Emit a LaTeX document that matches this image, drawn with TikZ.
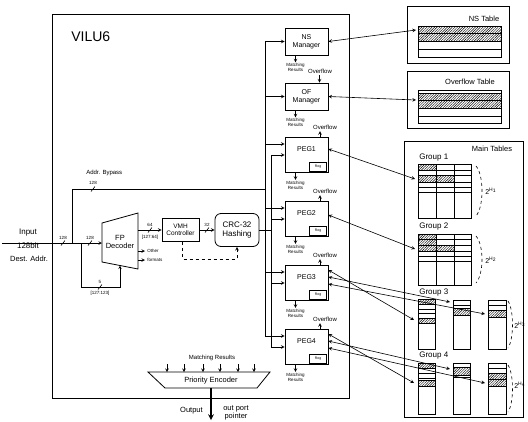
\documentclass[tikz,border=0pt]{standalone}
\usepackage{fontspec}
\setmainfont{Liberation Sans}
\usetikzlibrary{patterns.meta}
\begin{document}
\begin{tikzpicture}[x=1pt,y=-1pt,>=stealth,line width=0.6pt,
    box/.style={draw,line width=0.8pt,align=center,inner sep=0pt},
    mgr/.style={box,minimum width=43pt,minimum height=27pt,font=\fontsize{7}{8}\selectfont},
    pegbox/.style={box,minimum width=43pt,minimum height=35pt},
    regbox/.style={box,line width=0.6pt,minimum width=17pt,minimum height=9pt,font=\fontsize{3.5}{4}\selectfont},
    lbl/.style={inner sep=0pt,align=center},
    tiny/.style={lbl,font=\fontsize{4.5}{5}\selectfont},
    small/.style={lbl,font=\fontsize{6}{6.5}\selectfont},
    mid/.style={lbl,font=\fontsize{7.5}{8.5}\selectfont},
    big/.style={lbl,font=\fontsize{8}{9}\selectfont},
    pow/.style={lbl,font=\fontsize{7}{8}\selectfont,anchor=west},
    hatch/.style={pattern={Lines[angle=45,distance=1.8pt,line width=0.45pt]}},
    tab/.style={line width=0.75pt}]
  \useasboundingbox (0,0) rectangle (528,421);
  \draw[line width=1pt] (52,14) rectangle (349,398);
  \node[lbl,font=\fontsize{14}{16}\selectfont,anchor=west] (vilu) at (71,37) {VILU6};

  \node[mgr] (ns) at (306.5,41.5) {NS\\Manager};
  \node[mgr] (of) at (306.5,96.5) {OF\\Manager};
  \foreach \i/\y in {1/155,2/219,3/283,4/347}{
    \node[pegbox] (peg\i) at (306.5,\y) {};
    \node[lbl,font=\fontsize{7}{8}\selectfont] (pegt\i) at ([yshift=-12pt]peg\i.north) {PEG\i};
    \node[regbox,anchor=south east] (reg\i) at ([shift={(-1.5pt,1.5pt)}]peg\i.south east) {Reg};
    \coordinate (pa\i) at ([yshift=11pt]peg\i.west);
  }
  \foreach \b in {ns,of,peg1,peg2,peg3,peg4}{
    \draw[->] ([xshift=-11pt]\b.south) -- ++(0,7) coordinate (\b-m);
    \node[tiny,anchor=north] (\b-ml) at ([yshift=-1pt]\b-m) {Matching\\Results};
  }
  \node[small] (ovf) at (320,71) {Overflow};
  \draw[<-] ([xshift=13pt]of.north) -- ++(0,-8);
  \foreach \i in {1,...,4}{
    \draw[->] ([xshift=13.5pt]peg\i.north) -- ++(0,-6) coordinate (peg\i-o);
    \node[small,anchor=south] (peg\i-ol) at ([shift={(5pt,1pt)}]peg\i-o) {Overflow};
  }

  % buses into the managers and PEGs
  \coordinate (lbus) at (265,0);
  \coordinate (rbus) at (271,0);
  \draw (lbus |- ns.west) -- (lbus |- pa4);
  \draw (rbus |- peg1.west) -- (rbus |- peg4.west);
  \draw[->] (lbus |- ns.west) -- (ns.west);
  \draw[->] (lbus |- of.west) -- (of.west);
  \foreach \i in {1,...,4}{
    \draw[->] (lbus |- pa\i) -- (pa\i);
    \draw[->] (rbus |- peg\i.west) -- (peg\i.west);
  }

  % input side
  \node[big] (inp) at (28,233) {Input};
  \node[big] (inw) at (28,246) {128bit};
  \node[mid] (ind) at (29,259) {Dest. Addr.};
  \draw[line width=0.8pt] (102,223) -- (138,213) -- (138,269) -- (102,262) -- cycle;
  \node[mid] (fpd) at (120,242) {FP\\Decoder};
  \coordinate (in0) at (2,243);
  \coordinate (fpin) at (102,243);
  \coordinate (fpo) at (138,230);
  \coordinate (fpb) at (120,265.5);
  \coordinate (byp) at (265,189);
  \draw[->] (in0) -- (fpin);
  \draw (72,243) |- (byp);
  \draw[->] (81,243) |- (fpb |- 0,287) -- (fpb);
  \node[small,anchor=west] (addr) at (86,173) {Addr. Bypass};

  \node[box,minimum width=37pt,minimum height=23pt,font=\fontsize{6.5}{7.5}\selectfont] (vmh) at (180.5,230) {VMH\\Controller};
  \node[box,rounded corners=6pt,minimum width=44pt,minimum height=33pt,font=\fontsize{8}{9.5}\selectfont] (crc) at (237,230) {CRC-32\\Hashing};
  \draw[->] (fpo) -- (vmh.west);
  \draw[->] (vmh.east) -- (crc.west);
  \draw[dashed,->] ([xshift=2pt]vmh.south) -- ++(0,17) -| (crc.south);
  \draw (crc.east) -- (rbus |- crc.east);
  \draw[->] (138,251) -- ++(7,0);
  \draw[->] (138,260) -- ++(7,0);
  \node[tiny,anchor=west] (oth) at (147,251) {Other};
  \node[tiny,anchor=west] (fmt) at (147,260) {formats};

  % bus widths
  \foreach \x/\y in {63/243,90/243,93/189,150/230,207/230,100/287}
    \draw (\x,\y) +(-2,2.5) -- +(2,-2.5);
  \node[tiny] (w1) at (63,238) {128};
  \node[tiny] (w2) at (90,238) {128};
  \node[tiny] (w3) at (93,183) {128};
  \node[tiny] (w4) at (150,225) {64};
  \node[tiny] (w5) at (150,237) {[127:64]};
  \node[tiny] (w6) at (207,225) {32};
  \node[tiny] (w7) at (100,282) {5};
  \node[tiny] (w8) at (100,293) {[127:123]};

  % priority encoder
  \draw[line width=0.8pt] (148,372) -- (270,372) -- (257,388) -- (165,388) -- cycle;
  \node[mid] (penc) at (211,380.5) {Priority Encoder};
  \node[small] (pm) at (212,358) {Matching Results};
  \foreach \x in {167,184,203,220,238,254}
    \draw[->] (\x,364) -- (\x,372);
  \coordinate (pout) at (211,388);
  \coordinate (pend) at (211,420);
  \draw[->,line width=1.5pt] (pout) -- (pend);
  \node[mid,anchor=east] (outl) at (203,411) {Output};
  \node[mid] (outp) at (236,413) {out port\\pointer};

  % NS and overflow tables
  \draw[line width=1pt] (407,6) rectangle (509,63);
  \node[mid] (nsl) at (484,19) {NS Table};
  \fill[hatch] (418,26) rectangle (501,41);
  \draw[tab] (418,26) rectangle (501,57);
  \foreach \y in {33,41,49} \draw[tab] (418,\y) -- (501,\y);
  \draw[line width=1pt] (407,71) rectangle (509,128);
  \node[mid] (ofl) at (470,82) {Overflow Table};
  \fill[hatch] (418,93) rectangle (501,108);
  \draw[tab] (418,90) rectangle (501,123);
  \foreach \y in {93,100,108,116} \draw[tab] (418,\y) -- (501,\y);
  \coordinate (nst) at (416,30);
  \coordinate (oft) at (416,100);
  \draw[<->] (ns.east) -- (nst);
  \draw[<->] (of.east) -- (oft);

  % main tables
  \draw[line width=1pt] (404,141) rectangle (523,417);
  \node[mid] (mtl) at (492,149) {Main Tables};

  \node[big,anchor=west] (g1) at (419,158) {Group 1};
  \fill[hatch] (418,164) rectangle (436,170);
  \fill[hatch] (418,175) rectangle (454,182);
  \draw[tab] (418,164) rectangle (471,218);
  \draw[tab] (436,164) -- (436,218) (454,164) -- (454,218);
  \foreach \y in {170,175,182,187,192} \draw[tab] (418,\y) -- (471,\y);
  \draw[dashed] (476,166) .. controls (484,175) and (484,207) .. (476,216);
  \node[pow] (h1) at (485,191) {2\textsuperscript{H\textsubscript{1}}};

  \node[big,anchor=west] (g2) at (419,227) {Group 2};
  \fill[hatch] (418,234) rectangle (436,251);
  \fill[hatch] (436,245) rectangle (454,251);
  \draw[tab] (418,234) rectangle (471,285);
  \draw[tab] (436,234) -- (436,285) (454,234) -- (454,285);
  \foreach \y in {239,245,251,256,261} \draw[tab] (418,\y) -- (471,\y);
  \draw[dashed] (476,236) .. controls (484,245) and (484,274) .. (476,283);
  \node[pow] (h2) at (485,260) {2\textsuperscript{H\textsubscript{2}}};

  \node[big,anchor=west] (g3) at (419,293) {Group 3};
  \fill[hatch] (418,299) rectangle (435,304);
  \fill[hatch] (418,318) rectangle (435,323);
  \draw[tab] (418,299) rectangle (435,349);
  \foreach \y in {304,309,313,318,323} \draw[tab] (418,\y) -- (435,\y);
  \fill[hatch] (453,308) rectangle (470,315);
  \draw[tab] (453,300) rectangle (470,349);
  \foreach \y in {305,308,315} \draw[tab] (453,\y) -- (470,\y);
  \fill[hatch] (488,310) rectangle (506,317);
  \draw[tab] (488,300) rectangle (506,349);
  \foreach \y in {305,310,317} \draw[tab] (488,\y) -- (506,\y);
  \draw[dashed] (508,301) .. controls (514,310) and (514,339) .. (508,348);
  \node[pow] (h3) at (514,325) {2\textsuperscript{H\textsubscript{3}}};

  \node[big,anchor=west] (g4) at (419,356) {Group 4};
  \fill[hatch] (418,363) rectangle (435,368);
  \fill[hatch] (418,380) rectangle (435,386);
  \draw[tab] (418,363) rectangle (435,414);
  \foreach \y in {368,373,378,380,386} \draw[tab] (418,\y) -- (435,\y);
  \fill[hatch] (453,367) rectangle (470,375);
  \draw[tab] (453,363) rectangle (470,414);
  \foreach \y in {367,375,377} \draw[tab] (453,\y) -- (470,\y);
  \fill[hatch] (488,373) rectangle (506,386);
  \draw[tab] (488,363) rectangle (506,414);
  \foreach \y in {368,373,379,386} \draw[tab] (488,\y) -- (506,\y);
  \draw[dashed] (508,365) .. controls (514,374) and (514,403) .. (508,412);
  \node[pow] (h4) at (514,385) {2\textsuperscript{H\textsubscript{4}}};

  % PEG to group links
  \coordinate (t1) at (415,179);
  \coordinate (t2) at (415,249);
  \coordinate (t3a) at (414,320);
  \coordinate (t3b) at (450,302);
  \coordinate (t3c) at (485,314);
  \coordinate (t4a) at (414,383);
  \coordinate (t4b) at (450,369);
  \coordinate (t4c) at (485,383);
  \draw[<->] ([yshift=6pt]peg1.east) -- (t1);
  \draw[<->] ([yshift=4pt]peg2.east) -- (t2);
  \foreach \i in {3,4}{
    \draw[<->] ([yshift=13pt]peg\i.east) -- (t\i a);
    \draw[<->] ([yshift=6pt]peg\i.east) -- (t\i b);
    \draw[<->] ([yshift=-1pt]peg\i.east) -- (t\i c);
  }
\end{tikzpicture}
\end{document}
